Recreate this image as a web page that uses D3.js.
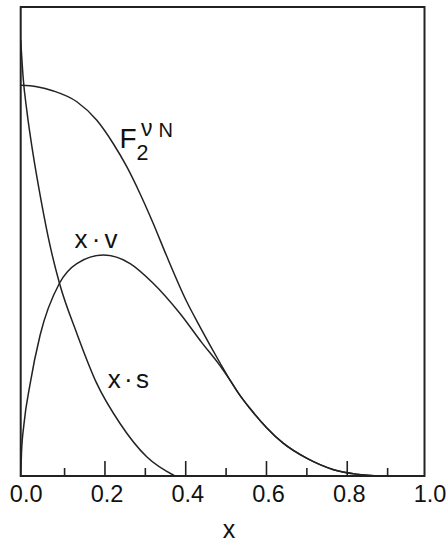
<!DOCTYPE html>
<html>
<head>
<meta charset="utf-8">
<script src="https://cdn.jsdelivr.net/npm/d3@7"></script>
<style>
  body { margin: 0; background: #fff; }
  svg text { font-family: "Liberation Sans", Arial, sans-serif; fill: #111; }
</style>
</head>
<body>
<div id="chart"></div>
<script>
// values (y in arbitrary units, 0..1 = frame height)
const f2X = [0, 0.04, 0.081, 0.139, 0.188, 0.229, 0.263, 0.295, 0.328, 0.361, 0.411, 0.444, 0.493, 0.518, 0.543, 0.567, 0.609, 0.65, 0.708, 0.773, 0.831, 0.896]
const f2Y = [0.833, 0.83, 0.821, 0.798, 0.759, 0.709, 0.659, 0.603, 0.539, 0.47, 0.372, 0.318, 0.242, 0.205, 0.172, 0.145, 0.103, 0.07, 0.038, 0.014, 0.004, 0]

const xvX = [0, 0.002, 0.008, 0.023, 0.048, 0.096, 0.139, 0.205, 0.271, 0.328, 0.394, 0.448, 0.493, 0.518, 0.543, 0.567, 0.609, 0.65, 0.708, 0.773, 0.831, 0.896]
const xvY = [0, 0.05, 0.11, 0.195, 0.3, 0.411, 0.453, 0.471, 0.453, 0.411, 0.347, 0.285, 0.236, 0.205, 0.172, 0.145, 0.103, 0.07, 0.038, 0.014, 0.004, 0]

const xsX = [0, 0.006, 0.015, 0.03, 0.05, 0.073, 0.096, 0.139, 0.188, 0.246, 0.312, 0.382]
const xsY = [0.93, 0.85, 0.78, 0.69, 0.59, 0.49, 0.411, 0.304, 0.198, 0.112, 0.041, 0]

const labelTicks = [0, 0.2, 0.4, 0.6, 0.8, 1.0]
const majorTicks = [0.2, 0.4, 0.6, 0.8]
const minorTicks = [0.1, 0.3, 0.5, 0.7, 0.9]

const W = 446, H = 542
const mLeft = 20.7, mRight = 424.5, mTop = 7, mBottom = 476

const svg = d3.select('#chart').append('svg')
    .attr('width', W)
    .attr('height', H)

const x = d3.scaleLinear().domain([0, 1]).range([mLeft, mRight])
const y = d3.scaleLinear().domain([0, 1]).range([mBottom, mTop])

// frame
svg.append('rect')
    .attr('x', mLeft).attr('y', mTop)
    .attr('width', mRight - mLeft).attr('height', mBottom - mTop)
    .attr('fill', 'none').attr('stroke', '#222').attr('stroke-width', 2)

// ticks point inward, they sit a little right of the frame scale in the original
const majorAxis = d3.axisBottom(x).tickValues(majorTicks).tickSize(-15).tickFormat('')
const minorAxis = d3.axisBottom(x).tickValues(minorTicks).tickSize(-8).tickFormat('')
const labelAxis = d3.axisBottom(x)
    .tickValues(labelTicks)
    .tickSize(0)
    .tickPadding(9)
    .tickFormat(d3.format('.1f'))

function styleAxis(g) {
    g.select('.domain').remove()
    g.selectAll('.tick line').attr('stroke', '#222').attr('stroke-width', 1.6)
    g.selectAll('.tick text')
        .attr('font-size', 23.5)
        .attr('font-family', '"Liberation Sans", Arial, sans-serif')
        .attr('fill', '#111')
}

svg.append('g').attr('transform', `translate(3,${mBottom})`).call(majorAxis).call(styleAxis)
svg.append('g').attr('transform', `translate(3,${mBottom})`).call(minorAxis).call(styleAxis)
svg.append('g').attr('transform', `translate(5,${mBottom})`).call(labelAxis).call(styleAxis)

svg.append('text')
    .attr('x', 229).attr('y', 538)
    .attr('text-anchor', 'middle')
    .attr('font-size', 25)
    .text('x')

// curves
const line = d3.line()
    .x(d => x(d[0]))
    .y(d => y(d[1]))
    .curve(d3.curveMonotoneX)

function drawCurve(xs, ys) {
    svg.append('path')
        .datum(d3.zip(xs, ys))
        .attr('d', line)
        .attr('fill', 'none')
        .attr('stroke', '#222')
        .attr('stroke-width', 1.5)
}
drawCurve(f2X, f2Y)
drawCurve(xvX, xvY)
drawCurve(xsX, xsY)

// labels
const f2 = svg.append('text').attr('x', 119.5).attr('y', 148.3).attr('font-size', 28)
f2.append('tspan').text('F')
f2.append('tspan').attr('x', 136.5).attr('y', 159.5).attr('font-size', 21.5).text('2')
f2.append('tspan').attr('x', 141).attr('y', 135.5).attr('font-size', 23).text('ν')
f2.append('tspan').attr('x', 158.5).attr('y', 137).attr('font-size', 20).text('N')

svg.append('text')
    .attr('x', 74.5).attr('y', 248.3)
    .attr('font-size', 26)
    .attr('word-spacing', -3)
    .text('x · v')

svg.append('text')
    .attr('x', 107.8).attr('y', 388.3)
    .attr('font-size', 26)
    .attr('word-spacing', -4)
    .text('x · s')
</script>
</body>
</html>
